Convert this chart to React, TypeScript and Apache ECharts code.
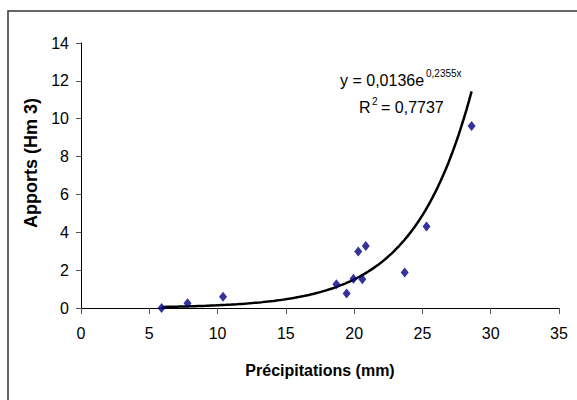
import React, { useEffect, useRef } from "react";
import * as echarts from "echarts";

const precipitations = [5.9, 7.8, 10.4, 18.7, 19.45, 19.95, 20.3, 20.6, 20.85, 23.7, 25.3, 28.6];
const apports = [0.0, 0.25, 0.6, 1.25, 0.76, 1.55, 2.98, 1.52, 3.28, 1.87, 4.3, 9.62];

// Exponential trendline as displayed on the chart: y = 0,0136 e^(0,2355 x)
const TREND_A = 0.0136;
const TREND_B = 0.2355;
const TREND_STEPS = 120;

const xTicks = [0, 5, 10, 15, 20, 25, 30, 35];
const yTicks = [0, 2, 4, 6, 8, 10, 12, 14];

const FONT = "'Liberation Sans', Arial, sans-serif";

export default function App() {
  const ref = useRef<HTMLDivElement>(null);

  useEffect(() => {
    if (!ref.current) return;
    const chart = echarts.init(ref.current, null, { renderer: "svg" });

    const xMin = Math.min(...precipitations);
    const xMax = Math.max(...precipitations);
    const trend: number[][] = [];
    for (let i = 0; i <= TREND_STEPS; i++) {
      const x = xMin + ((xMax - xMin) * i) / TREND_STEPS;
      trend.push([x, TREND_A * Math.exp(TREND_B * x)]);
    }

    const points = precipitations.map((x, i) => [x, apports[i]]);

    chart.setOption({
      animation: false,
      backgroundColor: "#ffffff",
      grid: { left: 81, right: 18, top: 43, bottom: 92, containLabel: false },
      xAxis: {
        type: "value",
        min: xTicks[0],
        max: xTicks[xTicks.length - 1],
        interval: 5,
        axisLine: { show: true, onZero: false, lineStyle: { color: "#000", width: 1 } },
        axisTick: { show: true, length: 6, lineStyle: { color: "#555", width: 1 } },
        axisLabel: { color: "#000", fontSize: 16, fontFamily: FONT, margin: 17 },
        splitLine: { show: false },
      },
      yAxis: {
        type: "value",
        min: yTicks[0],
        max: yTicks[yTicks.length - 1],
        interval: 2,
        axisLine: { show: true, lineStyle: { color: "#000", width: 1 } },
        axisTick: { show: true, length: 5, lineStyle: { color: "#555", width: 1 } },
        axisLabel: { color: "#000", fontSize: 16, fontFamily: FONT, margin: 12 },
        splitLine: { show: false },
      },
      series: [
        {
          type: "line",
          data: trend,
          showSymbol: false,
          symbol: "none",
          smooth: false,
          lineStyle: { color: "#000", width: 2.5 },
          z: 2,
        },
        {
          type: "scatter",
          data: points,
          symbol: "diamond",
          symbolSize: [8, 10],
          itemStyle: { color: "#000080" },
          z: 3,
        },
      ],
      graphic: [
        {
          type: "rect",
          shape: { x: 8, y: 11, width: 600, height: 420 },
          style: { fill: "none", stroke: "#333", lineWidth: 1.5 },
          silent: true,
        },
        {
          type: "text",
          x: 31,
          y: 163,
          rotation: Math.PI / 2,
          style: {
            text: "Apports (Hm 3)",
            font: `bold 18px ${FONT}`,
            fill: "#000",
            textAlign: "center",
            textVerticalAlign: "middle",
          },
        },
        {
          type: "text",
          x: 320,
          y: 370,
          style: {
            text: "Précipitations (mm)",
            font: `bold 16px ${FONT}`,
            fill: "#000",
            textAlign: "center",
            textVerticalAlign: "middle",
          },
        },
        {
          type: "text",
          x: 340,
          y: 80,
          style: {
            text: "y = 0,0136e",
            font: `16px ${FONT}`,
            fill: "#000",
            textAlign: "left",
            textVerticalAlign: "middle",
          },
        },
        {
          type: "text",
          x: 426,
          y: 73,
          style: {
            text: "0,2355x",
            font: `10px ${FONT}`,
            fill: "#000",
            textAlign: "left",
            textVerticalAlign: "middle",
          },
        },
        {
          type: "text",
          x: 359,
          y: 107,
          style: {
            text: "R",
            font: `16px ${FONT}`,
            fill: "#000",
            textAlign: "left",
            textVerticalAlign: "middle",
          },
        },
        {
          type: "text",
          x: 372,
          y: 101,
          style: {
            text: "2",
            font: `10px ${FONT}`,
            fill: "#000",
            textAlign: "left",
            textVerticalAlign: "middle",
          },
        },
        {
          type: "text",
          x: 381,
          y: 107,
          style: {
            text: "= 0,7737",
            font: `16px ${FONT}`,
            fill: "#000",
            textAlign: "left",
            textVerticalAlign: "middle",
          },
        },
      ],
    });

    return () => chart.dispose();
  }, []);

  return (
    <div
      ref={ref}
      style={{ position: "absolute", left: 0, top: 0, width: 577, height: 400 }}
    />
  );
}
